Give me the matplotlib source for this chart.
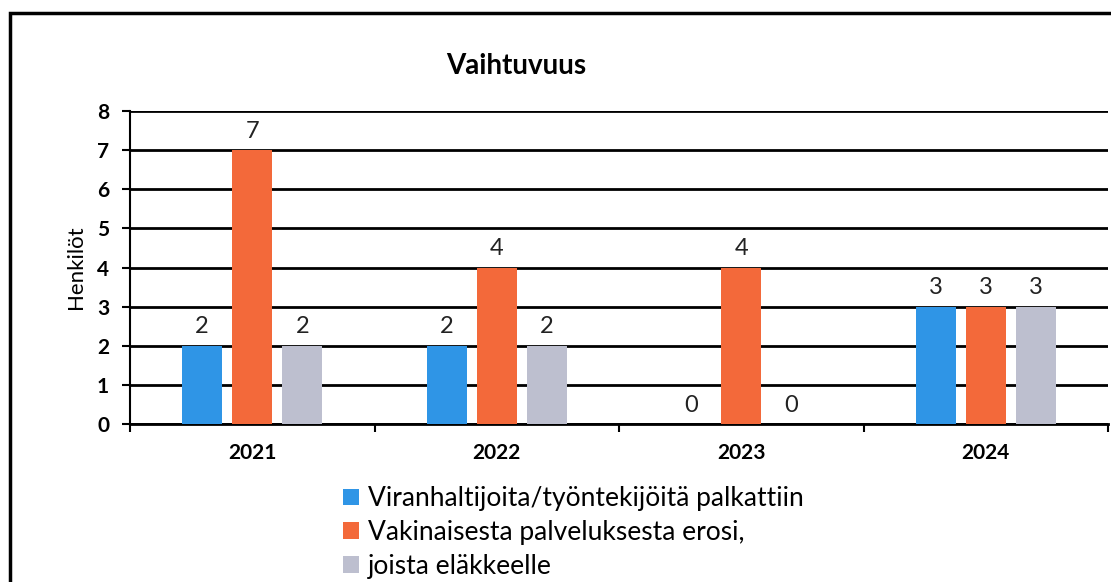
import matplotlib
matplotlib.use("Agg")
import matplotlib.pyplot as plt
from matplotlib.patches import Rectangle
import numpy as np

years = ["2021", "2022", "2023", "2024"]
series_names = ["Viranhaltijoita/työntekijöitä palkattiin",
                "Vakinaisesta palveluksesta erosi,",
                "joista eläkkeelle"]
hired = [2, 2, 0, 3]
left_service = [7, 4, 4, 3]
retired = [2, 2, 0, 3]
colors = ["#2F95E6", "#F3693A", "#BDBFCF"]

plt.rcParams['font.family'] = ['Lato', 'DejaVu Sans']

fig = plt.figure(figsize=(11.11, 5.82), dpi=100)
fig.patch.set_facecolor("white")
# outer frame
fig.add_artist(Rectangle((10/1111, -0.1), 1.2, 1 - 13/582 + 0.1, transform=fig.transFigure,
                         fill=False, edgecolor="black", linewidth=2.5))

ax = fig.add_axes([130/1111, 1 - 424/582, 978/1111, 313/582])
x = np.arange(len(years))
w = 0.164
step = 0.205
for i, (vals, col) in enumerate(zip([hired, left_service, retired], colors)):
    pos = x + (i - 1) * step
    ax.bar(pos, vals, width=w, color=col, label=series_names[i], zorder=3)
    for p, v in zip(pos, vals):
        ax.annotate(str(v), (p, v), xytext=(0, 6), textcoords="offset points",
                    ha="center", va="bottom", fontsize=17, color="#222222")

ax.set_xlim(-0.5, 3.5)
ax.set_ylim(0, 8)
ax.set_yticks(range(0, 9))
ax.yaxis.grid(True, color="black", linewidth=2, zorder=0)
ax.set_axisbelow(True)
for s in ["top", "right"]:
    ax.spines[s].set_visible(False)
ax.spines["left"].set_linewidth(1.5)
ax.spines["bottom"].set_linewidth(2)
ax.set_xticks(x)
ax.set_xticklabels(years, fontsize=15, fontweight="bold")
ax.set_xticks(np.arange(-0.5, 4.0, 1.0), minor=True)
ax.tick_params(axis="x", which="major", length=0, pad=14)
ax.tick_params(axis="x", which="minor", length=6, width=1.5, direction="out")
ax.tick_params(axis="y", length=6, width=1.5, labelsize=15, pad=9)
for lab in ax.get_yticklabels():
    lab.set_fontweight("bold")
ax.set_ylabel("Henkilöt", fontsize=16, labelpad=8)

ax.set_title("Vaihtuvuus", fontsize=20, fontweight="bold", pad=27, x=0.395)

ax.legend(loc="upper left", bbox_to_anchor=(0.207, -0.165), frameon=False,
          fontsize=19, handlelength=0.6, handleheight=0.6, handletextpad=0.35,
          labelspacing=0.33, borderaxespad=0)

fig.savefig("out.png", dpi=100)
